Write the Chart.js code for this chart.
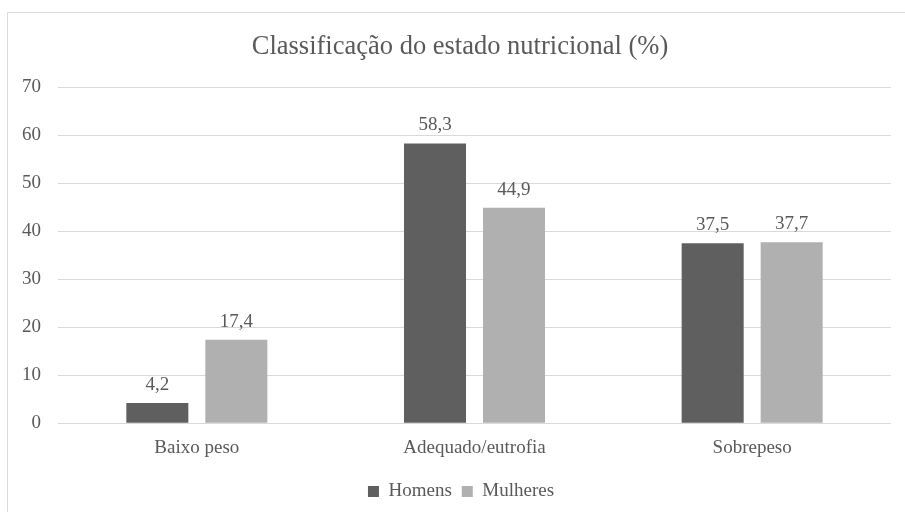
<!DOCTYPE html>
<html>
<head>
<meta charset="utf-8">
<script src="https://cdn.jsdelivr.net/npm/chart.js@4/dist/chart.umd.min.js"></script>
<style>
  html, body { margin: 0; padding: 0; background: #fff; }
  #wrap { width: 905px; height: 512px; position: relative; }
</style>
</head>
<body>
<div id="wrap"><canvas id="chart"></canvas></div>
<script>
const categories = ['Baixo peso', 'Adequado/eutrofia', 'Sobrepeso']
const homens = [4.2, 58.3, 37.5]
const mulheres = [17.4, 44.9, 37.7]
const yTicks = [0, 10, 20, 30, 40, 50, 60, 70]

const textColor = '#595959'
const serif = '"Liberation Serif", "Times New Roman", serif'

// frame of the chart area (top and left edges only are visible)
const framePlugin = {
    id: 'frame',
    beforeDraw(chart) {
        const ctx = chart.ctx
        ctx.save()
        ctx.strokeStyle = '#d9d9d9'
        ctx.lineWidth = 1
        ctx.beginPath()
        ctx.moveTo(7.5, 530)
        ctx.lineTo(7.5, 12.5)
        ctx.lineTo(920, 12.5)
        ctx.stroke()
        ctx.restore()
    },
    // title and legend sit a bit right of the canvas centre
    afterLayout(chart) {
        chart.legend.left += 13
        chart.legend.right += 13
        chart.titleBlock.left += 12
        chart.titleBlock.right += 12
    }
}

// value labels above the bars
const valueLabels = {
    id: 'valueLabels',
    afterDatasetsDraw(chart) {
        const ctx = chart.ctx
        ctx.save()
        ctx.font = '19px ' + serif
        ctx.fillStyle = textColor
        ctx.textAlign = 'center'
        ctx.textBaseline = 'middle'
        chart.data.datasets.forEach((ds, i) => {
            chart.getDatasetMeta(i).data.forEach((bar, j) => {
                const txt = ds.data[j].toFixed(1).replace('.', ',')
                ctx.fillText(txt, bar.x, bar.y - 18)
            })
        })
        ctx.restore()
    }
}

new Chart(document.getElementById('chart'), {
    type: 'bar',
    data: {
        labels: categories,
        datasets: [
            { label: 'Homens', data: homens, backgroundColor: '#5f5f5f' },
            { label: 'Mulheres', data: mulheres, backgroundColor: '#b0b0b0' }
        ]
    },
    options: {
        responsive: true,
        maintainAspectRatio: false,
        animation: false,
        datasets: {
            bar: { categoryPercentage: 0.569, barPercentage: 0.785 }
        },
        layout: { padding: { left: 5, right: 14, top: 0, bottom: 1 } },
        scales: {
            x: {
                grid: { display: false, drawTicks: false },
                border: { display: false },
                ticks: { color: textColor, font: { family: serif, size: 19 }, padding: 13 }
            },
            y: {
                min: 0,
                max: 70,
                afterBuildTicks(axis) { axis.ticks = yTicks.map(v => ({ value: v })) },
                grid: { color: '#d9d9d9', drawTicks: false },
                border: { display: false },
                ticks: { color: textColor, font: { family: serif, size: 19 }, padding: 17 }
            }
        },
        plugins: {
            title: {
                display: true,
                text: 'Classificação do estado nutricional (%)',
                color: textColor,
                font: { family: serif, size: 26.5, weight: 'normal' },
                padding: { top: 31, bottom: 24.5 }
            },
            legend: {
                position: 'bottom',
                labels: {
                    color: textColor,
                    font: { family: serif, size: 19 },
                    boxWidth: 11,
                    boxHeight: 11,
                    padding: 10
                }
            },
            tooltip: { enabled: false }
        }
    },
    plugins: [framePlugin, valueLabels]
})
</script>
</body>
</html>
